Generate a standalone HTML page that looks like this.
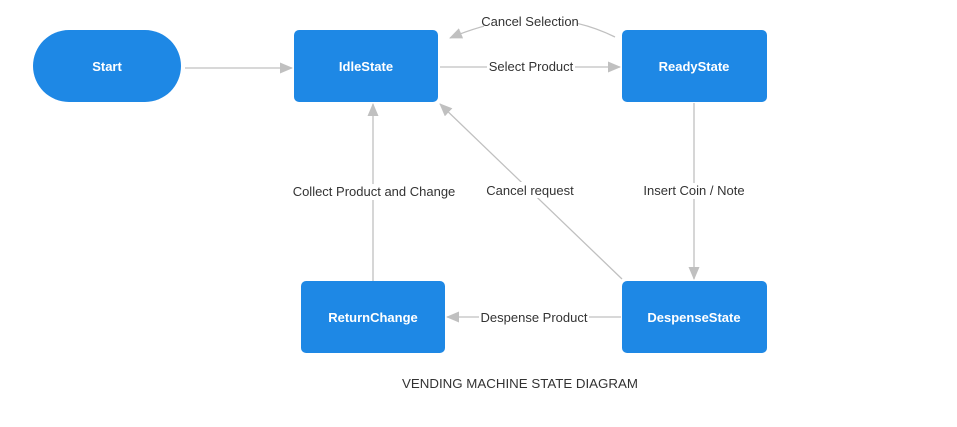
<!DOCTYPE html>
<html><head><style>
body{margin:0;background:#fff;width:957px;height:422px;overflow:hidden}
svg{font-family:"Liberation Sans",Arial,sans-serif}
.n{fill:#1e88e5}
.t{fill:#fff;font-size:13px;font-weight:bold;text-anchor:middle}
.l{fill:#333;font-size:13px;text-anchor:middle}
.e{stroke:#c0c0c0;stroke-width:1.3;fill:none}
</style></head><body>
<svg width="957" height="422" viewBox="0 0 957 422">
<defs><marker id="a" markerWidth="13" markerHeight="11" refX="12" refY="5.5" orient="auto" markerUnits="userSpaceOnUse"><path d="M0,0 L13,5.5 L0,11 z" fill="#c0c0c0"/></marker></defs>
<path class="e" d="M185,68 L292,68" marker-end="url(#a)"/>
<path class="e" d="M440,67 L620,67" marker-end="url(#a)"/>
<path class="e" d="M615,37 Q540,0 450,38" marker-end="url(#a)"/>
<path class="e" d="M694,103 L694,279" marker-end="url(#a)"/>
<path class="e" d="M621,317 L447,317" marker-end="url(#a)"/>
<path class="e" d="M373,281 L373,104" marker-end="url(#a)"/>
<path class="e" d="M622,279 L440,104" marker-end="url(#a)"/>
<rect x="33" y="30" width="148" height="72" rx="36" class="n"/>
<rect x="294" y="30" width="144" height="72" rx="5" class="n"/>
<rect x="622" y="30" width="145" height="72" rx="5" class="n"/>
<rect x="301" y="281" width="144" height="72" rx="5" class="n"/>
<rect x="622" y="281" width="145" height="72" rx="5" class="n"/>
<text x="107" y="71" class="t">Start</text>
<text x="366" y="71" class="t">IdleState</text>
<text x="694" y="71" class="t">ReadyState</text>
<text x="373" y="322" class="t">ReturnChange</text>
<text x="694" y="322" class="t">DespenseState</text>
<rect x="484" y="13" width="94" height="16" fill="#fff"/>
<text x="530" y="26" class="l">Cancel Selection</text>
<rect x="487" y="59" width="88" height="16" fill="#fff"/>
<text x="531" y="71" class="l">Select Product</text>
<rect x="642" y="183" width="104" height="16" fill="#fff"/>
<text x="694" y="195" class="l">Insert Coin / Note</text>
<rect x="290" y="184" width="168" height="16" fill="#fff"/>
<text x="374" y="196" class="l">Collect Product and Change</text>
<rect x="484" y="182" width="92" height="16" fill="#fff"/>
<text x="530" y="195" class="l">Cancel request</text>
<rect x="479" y="309" width="110" height="16" fill="#fff"/>
<text x="534" y="322" class="l">Despense Product</text>
<text x="520" y="388" class="l" style="font-size:13.3px">VENDING MACHINE STATE DIAGRAM</text>
</svg>
</body></html>
